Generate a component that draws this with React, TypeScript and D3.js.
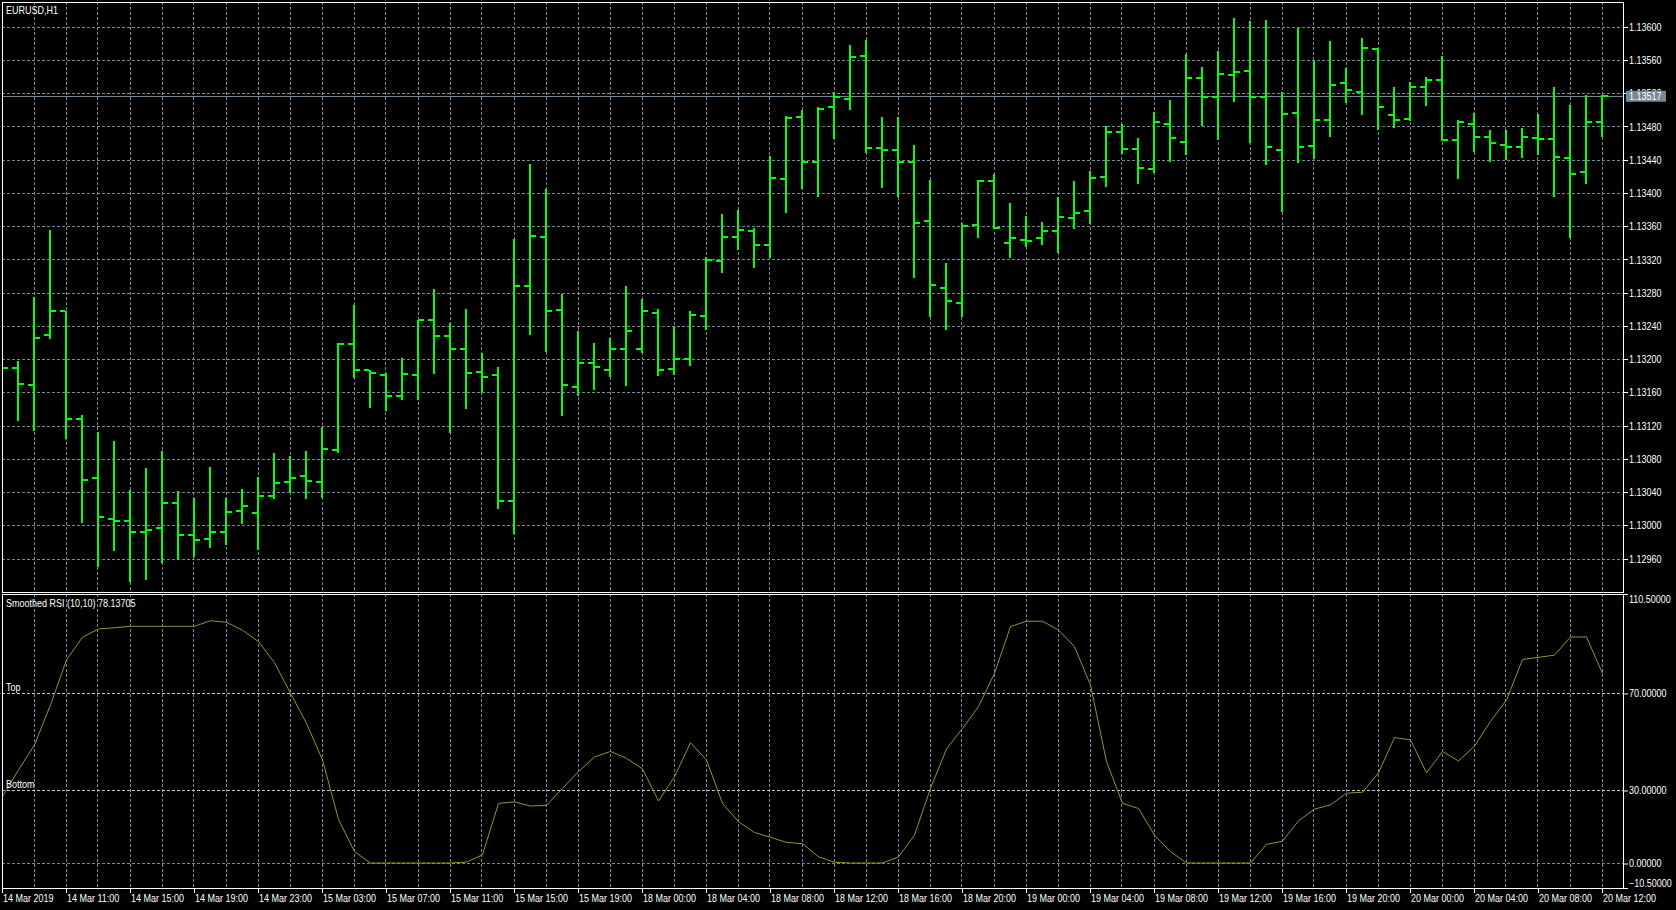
import React from 'react';
import * as d3 from 'd3';

const W = 1676;
const H = 910;

const symbolTitle = 'EURUSD,H1';
const indicatorTitle = 'Smoothed RSI (10,10) 78.13705';
const lastPrice = 1.13517;

const timeLabels = [
  '14 Mar 2019', '14 Mar 11:00', '14 Mar 15:00', '14 Mar 19:00', '14 Mar 23:00',
  '15 Mar 03:00', '15 Mar 07:00', '15 Mar 11:00', '15 Mar 15:00', '15 Mar 19:00',
  '18 Mar 00:00', '18 Mar 04:00', '18 Mar 08:00', '18 Mar 12:00', '18 Mar 16:00',
  '18 Mar 20:00', '19 Mar 00:00', '19 Mar 04:00', '19 Mar 08:00', '19 Mar 12:00',
  '19 Mar 16:00', '19 Mar 20:00', '20 Mar 00:00', '20 Mar 04:00', '20 Mar 08:00',
  '20 Mar 12:00',
];

const priceTicks = [
  1.12960, 1.13000, 1.13040, 1.13080, 1.13120, 1.13160, 1.13200, 1.13240, 1.13280,
  1.13320, 1.13360, 1.13400, 1.13440, 1.13480, 1.13520, 1.13560, 1.13600,
];

const rsiTicks = [110.5, 70, 30, 0, -10.5];
const rsiGrid = [70, 30, 0];
const levelNames = ['Top', 'Bottom'];
const levelValues = [70, 30];

const opens = [
  1.13200, 1.13190, 1.13170, 1.13230, 1.13258, 1.13129, 1.13058, 1.13008, 1.13006, 1.12993,
  1.12997, 1.13027, 1.12989, 1.12984, 1.12992, 1.13018, 1.13015, 1.13036, 1.13053, 1.13060,
  1.13053, 1.13091, 1.13219, 1.13188, 1.13181, 1.13156, 1.13182, 1.13248, 1.13228, 1.13213,
  1.13185, 1.13182, 1.13030, 1.13289, 1.13348, 1.13260, 1.13167, 1.13196, 1.13188, 1.13213,
  1.13213, 1.13256, 1.13189, 1.13201, 1.13252, 1.13319, 1.13347, 1.13355, 1.13338, 1.13418,
  1.13492, 1.13438, 1.13504, 1.13514, 1.13566, 1.13455, 1.13452, 1.13438, 1.13367, 1.13286,
  1.13268, 1.13362, 1.13415, 1.13340, 1.13344, 1.13346, 1.13355, 1.13370, 1.13379, 1.13420,
  1.13474, 1.13454, 1.13430, 1.13484, 1.13462, 1.13539, 1.13516, 1.13543, 1.13548, 1.13516,
  1.13452, 1.13497, 1.13457, 1.13488, 1.13533, 1.13522, 1.13574, 1.13495, 1.13490, 1.13528,
  1.13537, 1.13464, 1.13484, 1.13468, 1.13458, 1.13456, 1.13467, 1.13465, 1.13443, 1.13426,
  1.13486,
];

const highs = [
  1.13210, 1.13198, 1.13275, 1.13356, 1.13259, 1.13133, 1.13113, 1.13102, 1.13043, 1.13070,
  1.13090, 1.13042, 1.13034, 1.13071, 1.13033, 1.13044, 1.13059, 1.13088, 1.13084, 1.13090,
  1.13119, 1.13220, 1.13266, 1.13188, 1.13184, 1.13202, 1.13248, 1.13285, 1.13244, 1.13261,
  1.13208, 1.13191, 1.13345, 1.13436, 1.13405, 1.13279, 1.13234, 1.13220, 1.13226, 1.13289,
  1.13273, 1.13261, 1.13239, 1.13258, 1.13323, 1.13375, 1.13380, 1.13359, 1.13445, 1.13493,
  1.13501, 1.13504, 1.13522, 1.13579, 1.13585, 1.13492, 1.13492, 1.13458, 1.13416, 1.13316,
  1.13365, 1.13416, 1.13423, 1.13389, 1.13373, 1.13366, 1.13396, 1.13415, 1.13427, 1.13481,
  1.13484, 1.13467, 1.13498, 1.13512, 1.13568, 1.13552, 1.13571, 1.13611, 1.13608, 1.13609,
  1.13522, 1.13599, 1.13559, 1.13583, 1.13551, 1.13587, 1.13575, 1.13528, 1.13534, 1.13540,
  1.13565, 1.13488, 1.13497, 1.13476, 1.13476, 1.13479, 1.13496, 1.13528, 1.13507, 1.13519,
  1.13518,
];

const lows = [
  1.13175, 1.13127, 1.13115, 1.13226, 1.13106, 1.13005, 1.12952, 1.12971, 1.12934, 1.12936,
  1.12956, 1.12960, 1.12964, 1.12975, 1.12978, 1.13003, 1.12972, 1.13033, 1.13041, 1.13034,
  1.13035, 1.13089, 1.13179, 1.13143, 1.13139, 1.13153, 1.13153, 1.13184, 1.13113, 1.13142,
  1.13161, 1.13021, 1.12991, 1.13231, 1.13210, 1.13133, 1.13158, 1.13165, 1.13180, 1.13170,
  1.13209, 1.13182, 1.13183, 1.13194, 1.13237, 1.13305, 1.13333, 1.13312, 1.13324, 1.13378,
  1.13406, 1.13397, 1.13467, 1.13502, 1.13450, 1.13408, 1.13397, 1.13299, 1.13252, 1.13237,
  1.13252, 1.13347, 1.13358, 1.13323, 1.13337, 1.13339, 1.13329, 1.13359, 1.13365, 1.13409,
  1.13449, 1.13413, 1.13426, 1.13439, 1.13448, 1.13482, 1.13466, 1.13511, 1.13462, 1.13435,
  1.13379, 1.13438, 1.13443, 1.13469, 1.13510, 1.13496, 1.13478, 1.13480, 1.13488, 1.13506,
  1.13464, 1.13419, 1.13451, 1.13439, 1.13442, 1.13444, 1.13447, 1.13397, 1.13348, 1.13413,
  1.13469,
];

const closes = [
  1.13190, 1.13171, 1.13226, 1.13258, 1.13129, 1.13055, 1.13011, 1.13006, 1.12993, 1.12995,
  1.13027, 1.12989, 1.12983, 1.12992, 1.13017, 1.13024, 1.13036, 1.13052, 1.13058, 1.13054,
  1.13093, 1.13219, 1.13188, 1.13184, 1.13156, 1.13183, 1.13248, 1.13228, 1.13213, 1.13184,
  1.13179, 1.13030, 1.13289, 1.13349, 1.13258, 1.13169, 1.13196, 1.13191, 1.13213, 1.13234,
  1.13258, 1.13188, 1.13201, 1.13254, 1.13320, 1.13348, 1.13356, 1.13338, 1.13419, 1.13491,
  1.13438, 1.13502, 1.13516, 1.13564, 1.13455, 1.13452, 1.13438, 1.13364, 1.13290, 1.13270,
  1.13361, 1.13415, 1.13358, 1.13346, 1.13343, 1.13355, 1.13372, 1.13377, 1.13419, 1.13474,
  1.13454, 1.13431, 1.13486, 1.13467, 1.13539, 1.13516, 1.13544, 1.13546, 1.13516, 1.13456,
  1.13496, 1.13456, 1.13488, 1.13531, 1.13525, 1.13575, 1.13504, 1.13488, 1.13528, 1.13536,
  1.13464, 1.13486, 1.13468, 1.13461, 1.13456, 1.13468, 1.13465, 1.13444, 1.13424, 1.13486,
  1.13517,
];

const rsiValues = [
  27.4, 38.4, 48.7, 65.2, 83.7, 93.1, 96.5, 97.0, 97.6, 97.6,
  97.6, 97.6, 97.6, 99.9, 99.2, 96.0, 91.3, 82.6, 70.0, 57.6,
  42.5, 18.0, 4.7, 0, 0, 0, 0, 0, 0, 0.4,
  3.4, 24.6, 25.2, 23.5, 23.8, 30.8, 37.7, 43.7, 46.0, 43.2,
  38.8, 25.6, 35.6, 49.6, 42.5, 24.6, 17.0, 12.6, 10.6, 8.5,
  8.0, 2.6, 0.3, 0, 0, 0, 2.5, 11.5, 30.8, 47.0,
  55.5, 64.5, 78.2, 97.5, 99.7, 99.7, 96.1, 89.2, 73.4, 41.8,
  24.6, 22.5, 11.5, 4.7, 0, 0, 0, 0, 0, 7.7,
  9.0, 17.4, 22.2, 24.0, 28.8, 29.2, 37.2, 51.7, 50.8, 37.2,
  46.0, 42.1, 48.2, 58.4, 67.2, 83.9, 84.8, 85.7, 93.2, 93.2,
  78.137,
];

const BG = '#000000';
const FG = '#ffffff';
const GRID = '#778899';
const BAR = '#00ff00';
const RSI_COLOR = '#7f9f2a';
const LEVEL = '#c8c8c8';
const FONT = '"Liberation Sans", Arial, sans-serif';

// panel frame
const L = 2;
const R = 1623;
const T1 = 2;
const B1 = 592;
const T2 = 594;
const B2 = 888;

const Txt = ({ x, y, children, fill = FG }: { x: number; y: number; children: React.ReactNode; fill?: string }) => (
  <text
    transform={`translate(${x},${y}) scale(0.9,1)`}
    fill={fill}
    fontFamily={FONT}
    fontSize={10}
  >
    {children}
  </text>
);

export default function App() {
  const n = closes.length;
  const x = d3.scaleLinear().domain([0, n - 1]).range([2, 1602]);
  const y = d3.scaleLinear().domain([1.1296, 1.136]).range([559.0, 27.3]);
  const yr = d3.scaleLinear().domain([-10.5, 110.5]).range([888.5, 595]);
  const px = (v: number) => Math.floor(v) + 0.5;

  const gridXs = d3.range(2, n, 2).map((k) => px(x(k)));
  const rsiLine = d3
    .line<number>()
    .x((_, i) => x(i) + 0.5)
    .y((v) => yr(v));

  const fmt = d3.format('.5f');

  return (
    <svg width={W} height={H} style={{ position: 'absolute', left: 0, top: 0, background: BG }}>
      <defs>
        <clipPath id="mainClip">
          <rect x={L + 1} y={T1 + 1} width={R - L - 1} height={B1 - T1 - 1} />
        </clipPath>
        <clipPath id="subClip">
          <rect x={L + 1} y={T2 + 1} width={R - L - 1} height={B2 - T2 - 1} />
        </clipPath>
      </defs>
      <rect x={0} y={0} width={W} height={H} fill={BG} />

      {/* main grid */}
      <g stroke={GRID} strokeWidth={1} strokeDasharray="3,2" clipPath="url(#mainClip)">
        {gridXs.map((gx, i) => (
          <line key={'mv' + i} x1={gx} x2={gx} y1={T1} y2={B1} />
        ))}
        {priceTicks.map((p, i) => (
          <line key={'mh' + i} x1={L} x2={R} y1={px(y(p))} y2={px(y(p))} />
        ))}
      </g>

      {/* bid line */}
      <line x1={L} x2={R} y1={px(y(lastPrice))} y2={px(y(lastPrice))} stroke={GRID} strokeWidth={1} />

      {/* OHLC bars */}
      <g fill={BAR} clipPath="url(#mainClip)">
        {closes.map((c, k) => {
          const cx = Math.round(x(k));
          const yh = Math.round(y(highs[k]));
          const yl = Math.round(y(lows[k]));
          const yo = Math.round(y(opens[k]));
          const yc = Math.round(y(c));
          return (
            <g key={'b' + k}>
              <rect x={cx - 1} y={yh} width={2} height={Math.max(2, yl - yh + 1)} />
              <rect x={cx - 6} y={yo - 1} width={5} height={2} />
              <rect x={cx + 1} y={yc - 1} width={5} height={2} />
            </g>
          );
        })}
      </g>

      {/* indicator grid */}
      <g stroke={GRID} strokeWidth={1} strokeDasharray="3,2" clipPath="url(#subClip)">
        {gridXs.map((gx, i) => (
          <line key={'sv' + i} x1={gx} x2={gx} y1={T2} y2={B2} />
        ))}
        {rsiGrid.map((v, i) => (
          <line key={'sh' + i} x1={L} x2={R} y1={px(yr(v))} y2={px(yr(v))} />
        ))}
      </g>
      <g stroke={LEVEL} strokeWidth={1} strokeDasharray="3,2" clipPath="url(#subClip)">
        {levelValues.map((v, i) => (
          <line key={'lv' + i} x1={L} x2={R} y1={px(yr(v))} y2={px(yr(v))} />
        ))}
      </g>
      <g clipPath="url(#subClip)">
        <path d={rsiLine(rsiValues) || ''} fill="none" stroke={RSI_COLOR} strokeWidth={1} />
      </g>

      {/* frames */}
      <g stroke={FG} strokeWidth={1} fill="none">
        <rect x={L + 0.5} y={T1 + 0.5} width={R - L} height={B1 - T1} />
        <rect x={L + 0.5} y={T2 + 0.5} width={R - L} height={B2 - T2} />
      </g>

      {/* price axis */}
      <g>
        {priceTicks.map((p, i) => (
          <g key={'pt' + i}>
            <line x1={R} x2={R + 5} y1={px(y(p))} y2={px(y(p))} stroke={FG} />
            <Txt x={R + 6} y={y(p) + 3.6}>{fmt(p)}</Txt>
          </g>
        ))}
        <rect x={R + 3} y={y(lastPrice) - 5.5} width={40} height={11} fill={GRID} />
        <Txt x={R + 6} y={y(lastPrice) + 3.6} fill={FG}>{fmt(lastPrice)}</Txt>
      </g>

      {/* indicator axis */}
      <g>
        {rsiTicks.map((v, i) => {
          const ty = v === rsiTicks[0] ? T2 : v === rsiTicks[rsiTicks.length - 1] ? B2 : px(yr(v));
          const textY = v === rsiTicks[0] ? T2 + 9 : v === rsiTicks[rsiTicks.length - 1] ? B2 - 1.5 : yr(v) + 3.6;
          return (
            <g key={'rt' + i}>
              <line x1={R} x2={R + 5} y1={ty + 0.5} y2={ty + 0.5} stroke={FG} />
              <Txt x={R + 6} y={textY}>{fmt(v)}</Txt>
            </g>
          );
        })}
      </g>

      {/* time axis */}
      <g>
        {timeLabels.map((t, i) => {
          const tx = Math.round(x(i * 4));
          return (
            <g key={'tl' + i}>
              <line x1={tx + 0.5} x2={tx + 0.5} y1={B2} y2={B2 + 5} stroke={FG} />
              <Txt x={tx + 1} y={901.5}>{t}</Txt>
            </g>
          );
        })}
      </g>

      {/* titles */}
      <Txt x={6} y={13.5}>{symbolTitle}</Txt>
      <Txt x={6} y={607}>{indicatorTitle}</Txt>
      {levelNames.map((name, i) => (
        <Txt key={'ln' + i} x={6} y={yr(levelValues[i]) - 2.5}>{name}</Txt>
      ))}
    </svg>
  );
}
